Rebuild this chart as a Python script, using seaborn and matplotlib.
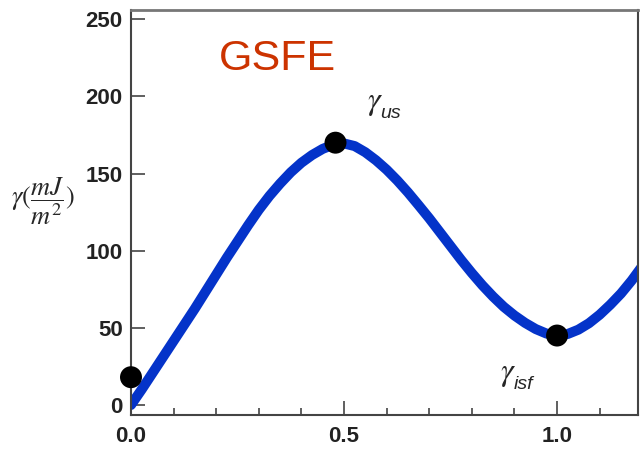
import matplotlib
matplotlib.use("Agg")
import matplotlib.pyplot as plt
from matplotlib.ticker import MultipleLocator
import seaborn as sns
import pandas as pd

# ---- data ----
disp = [0.000, 0.025, 0.050, 0.075, 0.100, 0.125, 0.150, 0.175, 0.200, 0.225,
        0.250, 0.275, 0.300, 0.325, 0.350, 0.375, 0.400, 0.425, 0.450, 0.475,
        0.500, 0.525, 0.550, 0.575, 0.600, 0.625, 0.650, 0.675, 0.700, 0.725,
        0.750, 0.775, 0.800, 0.825, 0.850, 0.875, 0.900, 0.925, 0.950, 0.975,
        1.000, 1.025, 1.050, 1.075, 1.100, 1.125, 1.150, 1.175, 1.200]
energy = [0, 10, 20.5, 31, 41.5, 52, 62.5, 73.5, 84.5, 95.5,
          106, 116.5, 126.5, 135.5, 143.5, 150.8, 157, 162, 166, 168.7,
          169.5, 167.8, 163.8, 158.6, 152.5, 145.5, 137.8, 129.5, 121, 112,
          103, 94, 85.5, 77.5, 70.2, 63.6, 58, 53.2, 49.2, 46.3,
          45, 46, 48.8, 53, 58.5, 65, 72.2, 80.6, 90]
pt_x = [0.0, 0.48, 1.0]
pt_y = [18, 170, 45]
y_ticks = [0, 50, 100, 150, 200, 250]
x_ticks = [0.0, 0.5, 1.0]

sns.set_style("ticks")
plt.rcParams["font.family"] = ["Liberation Sans", "DejaVu Sans"]
plt.rcParams["mathtext.fontset"] = "stix"

fig = plt.figure(figsize=(6.42, 4.53), dpi=100)
ax = fig.add_axes([131/642, 38/453, 507/642, 405/453])

df = pd.DataFrame({"x": disp, "y": energy})
sns.lineplot(data=df, x="x", y="y", ax=ax, color="#0433c9", linewidth=7.2,
             solid_capstyle="round", solid_joinstyle="round")
sns.scatterplot(x=pt_x, y=pt_y, ax=ax, color="black", s=250, edgecolor="none",
                zorder=5, clip_on=False)

ax.set_xlim(0, 1.19)
ax.set_ylim(-6.5, 256)
ax.set_xticks(x_ticks)
ax.set_xticklabels([f"{v:.1f}" for v in x_ticks])
ax.xaxis.set_minor_locator(MultipleLocator(0.1))
ax.set_yticks(y_ticks)
ax.set_yticklabels([str(v) for v in y_ticks])
ax.set_xlabel("")
ax.set_ylabel("")

ax.tick_params(axis="both", which="major", direction="in", length=10, width=1.2,
               color="#444444", labelsize=16, labelcolor="#222222")
ax.tick_params(axis="x", which="major", pad=8)
ax.tick_params(axis="y", which="major", pad=6)
ax.tick_params(axis="x", which="minor", direction="in", length=5, width=1.2,
               color="#444444")
for lab in ax.get_xticklabels() + ax.get_yticklabels():
    lab.set_fontweight("bold")

for side in ["left", "bottom", "right"]:
    ax.spines[side].set_visible(True)
    ax.spines[side].set_color("#444444")
    ax.spines[side].set_linewidth(1.5)
ax.spines["top"].set_visible(True)
ax.spines["top"].set_color("#777777")
ax.spines["top"].set_linewidth(2)

# annotations
ax.text(0.343, 224, "GSFE", color="#cc3300", fontsize=31, ha="center", va="center",
        family="Liberation Sans")
ax.text(0.553, 196, r"$\gamma$", fontsize=23, ha="left", va="center")
ax.text(0.586, 189, "us", fontsize=14, style="italic", ha="left", va="center",
        family="Liberation Sans")
ax.text(0.865, 20, r"$\gamma$", fontsize=23, ha="left", va="center")
ax.text(0.898, 13, "isf", fontsize=14, style="italic", ha="left", va="center",
        family="Liberation Sans")

fig.text(11/642, 1 - 201/453, r"$\gamma(\dfrac{mJ}{m^2})$", fontsize=19,
         ha="left", va="center")

fig.savefig("out.png", dpi=100)
